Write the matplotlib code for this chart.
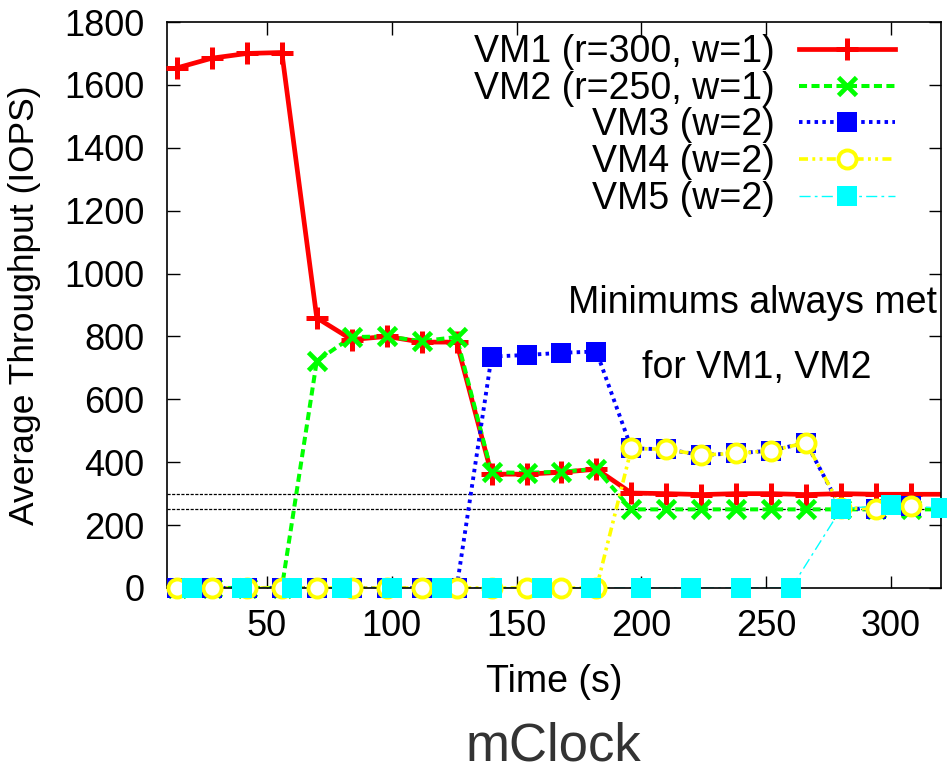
import numpy as np
import matplotlib
matplotlib.use('Agg')
import matplotlib.pyplot as plt
from matplotlib.lines import Line2D

plt.rcParams['font.family'] = ['Liberation Sans', 'DejaVu Sans']

# sample times (s)
t14 = [14, 28, 42, 56, 70, 84, 98, 112, 126, 140, 154, 168, 182, 196, 210,
       224, 238, 252, 266, 280, 294, 308, 322]
t20 = [20, 40, 60, 80, 100, 120, 140, 160, 180, 200, 220, 240, 260, 280, 300, 320]

vm1 = [1654, 1685, 1700, 1703, 859, 790, 800, 782, 782, 362, 362, 368, 378,
       302, 300, 297, 300, 300, 297, 300, 298, 298, 298]
vm2 = [0, 0, 0, 0, 722, 798, 800, 785, 798, 368, 366, 370, 378,
       250, 250, 250, 250, 250, 250, 250, 250, 250, 250]
vm3 = [0, 0, 0, 0, 0, 0, 0, 0, 0, 736, 741, 748, 752,
       444, 441, 423, 428, 437, 462, 252, 252, 262]
vm4 = [0, 0, 0, 0, 0, 0, 0, 0, 0, 0, 0, 0, 0,
       444, 441, 423, 428, 437, 462, 255, 252, 262]
vm5 = [0, 0, 0, 0, 0, 0, 0, 0, 0, 0, 0, 0, 0, 252, 264, 254]

labels = ['VM1 (r=300, w=1)', 'VM2 (r=250, w=1)', 'VM3 (w=2)', 'VM4 (w=2)', 'VM5 (w=2)']
reservations = [300, 250]
xticks = [50, 100, 150, 200, 250, 300]
yticks = list(range(0, 1801, 200))

styles = [
    dict(color='#ff0000', lw=3.4, dashes=(), marker='+', ms=16, mew=3.6, mfc='#ff0000'),
    dict(color='#00ff00', lw=2.9, dashes=(2, 1.1), marker='x', ms=13, mew=3.4, mfc='#00ff00'),
    dict(color='#0000ff', lw=2.8, dashes=(0.9, 1.1), marker='s', ms=14.5, mew=0, mfc='#0000ff'),
    dict(color='#ffff00', lw=2.6, dashes=(2.5, 1.2, 0.8, 1.2, 0.8, 1.2), marker='o', ms=13, mew=2.8, mfc='white'),
    dict(color='#00ffff', lw=1.0, dashes=(8, 3, 2, 3), marker='s', ms=14.5, mew=0, mfc='#00ffff'),
]
series = [(t14, vm1), (t14, vm2), (t14[:len(vm3)], vm3), (t14[:len(vm4)], vm4), (t20, vm5)]

fig = plt.figure(figsize=(9.47, 7.70), dpi=100)
ax = fig.add_axes([0.1763, 0.2364, 0.8174, 0.735])
ax.set_xlim(10, 320)
ax.set_ylim(0, 1800)

for r in reservations:
    ax.axhline(r, color='black', lw=0.9, dashes=(2.5, 1.2), zorder=1)

handles = []
for (t, y), st in zip(series, styles):
    t = np.array(t)
    y = np.array(y)
    ax.plot(t, y, color=st['color'], lw=st['lw'], dashes=st['dashes'], zorder=2)
    keep = t <= 320
    ax.plot(t[keep], y[keep], ls='none', marker=st['marker'], ms=st['ms'],
            mew=st['mew'], mec=st['color'], mfc=st['mfc'], clip_on=False, zorder=3)
    handles.append(Line2D([], [], color=st['color'], lw=st['lw'], dashes=st['dashes'],
                          marker=st['marker'], ms=st['ms'], mew=st['mew'],
                          mec=st['color'], mfc=st['mfc']))

ax.legend(handles, labels, loc='upper right', bbox_to_anchor=(0.9406, 0.979),
          frameon=False, fontsize=27, markerfirst=False, handlelength=2.57,
          handletextpad=0.63, labelspacing=0.02, borderpad=0, borderaxespad=0)

ax.text(244.5, 875, 'Minimums always met', fontsize=27, ha='center', va='baseline')
ax.text(246, 668, 'for VM1, VM2', fontsize=27, ha='center', va='baseline')

ax.set_xticks(xticks)
ax.set_yticks(yticks)
ax.tick_params(direction='in', top=True, right=True, length=9, width=1.0,
               labelsize=26)
ax.tick_params(axis='y', pad=16)
ax.tick_params(axis='x', pad=15)
for s in ax.spines.values():
    s.set_linewidth(1.2)

ax.set_xlabel('Time (s)', fontsize=27)
ax.xaxis.set_label_coords(0.5, -0.135)
ax.set_ylabel('Average Throughput (IOPS)', fontsize=25.5)
ax.yaxis.set_label_coords(-0.163, 0.5)

fig.text(0.584, 0.031, 'mClock', fontsize=38, color='#333333', ha='center', va='center')

fig.savefig('out.png', dpi=100)
